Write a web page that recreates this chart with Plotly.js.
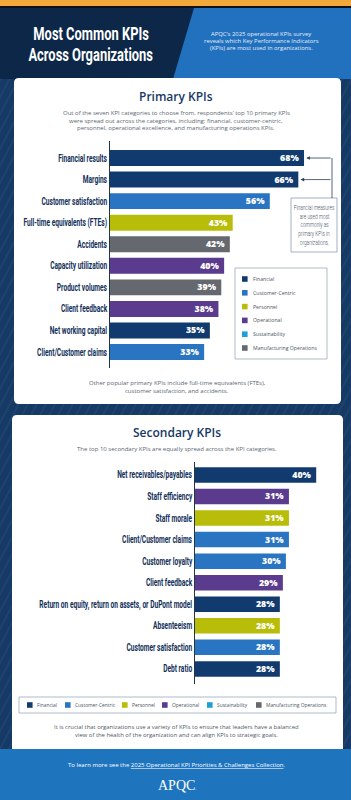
<!DOCTYPE html>
<html><head><meta charset="utf-8">
<script src="https://cdn.plot.ly/plotly-3.0.1.min.js"></script>
<style>
html,body{margin:0;padding:0;background:#163a66;}
#chart{width:351px;height:800px;}
</style></head>
<body><div id="chart"></div>
<script>
// ---------- DATA ----------
const primaryLabels = ['Financial results','Margins','Customer satisfaction','Full-time equivalents (FTEs)','Accidents','Capacity utilization','Product volumes','Client feedback','Net working capital','Client/Customer claims'];
const primaryValues = [68,66,56,43,42,40,39,38,35,33];
const primaryCategories = ['Financial','Financial','Customer-Centric','Personnel','Manufacturing Operations','Operational','Manufacturing Operations','Operational','Financial','Customer-Centric'];

const secondaryLabels = ['Net receivables/payables','Staff efficiency','Staff morale','Client/Customer claims','Customer loyalty','Client feedback','Return on equity, return on assets, or DuPont model','Absenteeism','Customer satisfaction','Debt ratio'];
const secondaryValues = [40,31,31,31,30,29,28,28,28,28];
const secondaryCategories = ['Financial','Operational','Personnel','Customer-Centric','Customer-Centric','Operational','Financial','Personnel','Customer-Centric','Financial'];

const categoryNames = ['Financial','Customer-Centric','Personnel','Operational','Sustainability','Manufacturing Operations'];
const categoryColors = ['#113b6e','#2a75c1','#b8bd0a','#5a3b8e','#1f9fd8','#65686e'];

// ---------- HELPERS ----------
const W = 351, H = 800;
const X = p => p / W;
const Y = p => 1 - p / H;
const COND = "Roboto, 'Liberation Sans', sans-serif";
const SANS = "'Open Sans', 'DejaVu Sans', sans-serif";
const NAVY = '#12305a';

const shapes = [];
const annotations = [];
const condensedAnnots = {}; // text -> squeeze factor

function rect(x0, y0, x1, y1, fill, line, lw) {
  shapes.push({type:'rect', xref:'paper', yref:'paper', layer:'below',
    x0:X(x0), x1:X(x1), y0:Y(y1), y1:Y(y0),
    fillcolor:fill, line:{color:line || 'rgba(0,0,0,0)', width: lw || 0}});
}
function rrect(x0, y0, x1, y1, r, fill) {
  const P = (x, y) => X(x) + ',' + Y(y);
  const path = `M${P(x0+r,y0)} L${P(x1-r,y0)} Q${P(x1,y0)} ${P(x1,y0+r)} L${P(x1,y1-r)} Q${P(x1,y1)} ${P(x1-r,y1)} L${P(x0+r,y1)} Q${P(x0,y1)} ${P(x0,y1-r)} L${P(x0,y0+r)} Q${P(x0,y0)} ${P(x0+r,y0)} Z`;
  shapes.push({type:'path', xref:'paper', yref:'paper', layer:'below', path:path,
    fillcolor:fill, line:{width:0}});
}
function poly(pts, fill) {
  const path = 'M' + pts.map(p => X(p[0]) + ',' + Y(p[1])).join(' L') + ' Z';
  shapes.push({type:'path', xref:'paper', yref:'paper', layer:'below', path:path,
    fillcolor:fill, line:{width:0}});
}
function line(x0, y0, x1, y1, color, w, layer) {
  shapes.push({type:'line', xref:'paper', yref:'paper', layer: layer || 'below',
    x0:X(x0), x1:X(x1), y0:Y(y0), y1:Y(y1), line:{color:color, width:w}});
}
function txt(x, y, text, font, xanchor, squeeze) {
  annotations.push({xref:'paper', yref:'paper', x:X(x), y:Y(y), text:text,
    showarrow:false, xanchor: xanchor || 'center', yanchor:'middle', font:font, borderpad:0});
  if (squeeze) condensedAnnots[text] = squeeze;
}
function lines(x, y0, dy, arr, font, xanchor, squeeze) {
  arr.forEach((t, i) => txt(x, y0 + i * dy, t, font, xanchor, squeeze));
}

// ---------- BACKGROUND ----------
rect(0, 0, W, H, '#163a66');
for (let i = -60; i < 60; i++) {
  const x0 = i * 9;
  line(x0, 800, x0 + 420, 0, 'rgba(255,255,255,0.045)', 2);
}
rect(0, 0, W, 6, '#f3a83b');
rect(0, 6, W, 8, '#101010');
rect(0, 8, W, 79, '#2271bf');
poly([[0,8],[194,8],[173,79],[0,79]], '#0c2748');
rrect(14, 78, 341, 404, 5, '#ffffff');
rrect(12, 415, 343, 760, 5, '#ffffff');
rect(0, 749, W, H, '#1f74be');

// callout box & connector
rect(291, 198, 337, 252, '#ffffff', '#8a9cb2', 0.8);
line(332, 158, 332, 198, '#2a3f5a', 0.8);

// legend 1 (vertical)
rect(235, 268, 327, 359, '#ffffff', '#9aaabd', 0.8);
categoryNames.forEach((c, i) => {
  const yc = 279 + i * 13.8;
  rect(242, yc - 2.8, 247.6, yc + 2.8, categoryColors[i]);
  txt(252, yc, c, {family:SANS, size:5.2, color:'#4a5563'}, 'left');
});

// legend 2 (horizontal)
rect(19, 697, 336, 713, '#ffffff', '#9aaabd', 0.8);
const leg2Sq = [27, 65, 122, 162, 207, 256];
categoryNames.forEach((c, i) => {
  const yc = 705;
  rect(leg2Sq[i], yc - 2.8, leg2Sq[i] + 5.6, yc + 2.8, categoryColors[i]);
  txt(leg2Sq[i] + 8.5, yc, c, {family:SANS, size:4.9, color:'#4a5563'}, 'left');
});

// ---------- TEXT ----------
const titleFont = {family:COND, size:19, color:'#ffffff', weight:'bold'};
txt(91, 33.5, 'Most Common KPIs', titleFont, 'center', 0.68);
txt(91, 54.5, 'Across Organizations', titleFont, 'center', 0.68);
lines(261, 34, 6.8, [
  "APQC\u2019s 2025 operational KPIs survey",
  'reveals which Key Performance Indicators',
  '(KPIs) are most used in organizations.'
], {family:SANS, size:5.9, color:'#e4edf8'});

txt(176, 96, 'Primary KPIs', {family:SANS, size:12, color:'#163866', weight:600});
lines(176, 113, 7.7, [
  "Out of the seven KPI categories to choose from, respondents\u2019 top 10 primary KPIs",
  'were spread out across the categories, including: financial, customer-centric,',
  'personnel, operational excellence, and manufacturing operations KPIs.'
], {family:SANS, size:6, color:'#5b6572'});

lines(314, 208, 8.7, ['Financial measures','are used most','commonly as','primary KPIs in','organizations.'],
  {family:COND, size:6.6, color:'#3d4b5c', weight:300}, 'center', 0.72);

lines(177, 383, 8, [
  'Other popular primary KPIs include full-time equivalents (FTEs),',
  'customer satisfaction, and accidents.'
], {family:SANS, size:6, color:'#5b6572'});

txt(177, 432, 'Secondary KPIs', {family:SANS, size:12, color:'#163866', weight:600});
txt(177, 449, 'The top 10 secondary KPIs are equally spread across the KPI categories.',
  {family:SANS, size:6, color:'#5b6572'});

lines(176, 727, 7.5, [
  'It is crucial that organizations use a variety of KPIs to ensure that leaders have a balanced',
  'view of the health of the organization and can align KPIs to strategic goals.'
], {family:SANS, size:5.9, color:'#4f5966'});

txt(177, 765, 'To learn more see the <span style="text-decoration:underline">2025 Operational KPI Priorities &amp; Challenges Collection</span>.',
  {family:SANS, size:6, color:'#ffffff'});
txt(177, 785, 'APQC<span style="font-size:5px">.</span>', {family:"'Liberation Serif', 'DejaVu Serif', serif", size:14, color:'#ffffff'});

// arrows from callout to financial bars (data coordinates)
const tailX = (332 - 110) / (220 / 77.1);
[0, 1].forEach(i => {
  annotations.push({xref:'x', yref:'y', axref:'x', ayref:'y',
    x: primaryValues[i] + 0.8, y: primaryLabels[i], ax: tailX, ay: primaryLabels[i],
    text:'', showarrow:true, arrowhead:2, arrowsize:0.9, arrowwidth:0.8, arrowcolor:'#2a3f5a', standoff:0});
});

// ---------- TRACES ----------
function barTrace(labels, values, cats, xa, ya, w) {
  return {type:'bar', orientation:'h', x:values, y:labels, xaxis:xa, yaxis:ya, width:w,
    marker:{color: cats.map(c => categoryColors[categoryNames.indexOf(c)]), line:{width:0}},
    text: values.map(v => v + '%\u00a0'), textposition:'inside', insidetextanchor:'end', textangle:0,
    insidetextfont:{family:SANS, size:8.8, color:'#ffffff', weight:800},
    constraintext:'none', hoverinfo:'skip', showlegend:false};
}
const data = [
  barTrace(primaryLabels, primaryValues, primaryCategories, 'x', 'y', 0.74),
  barTrace(secondaryLabels, secondaryValues, secondaryCategories, 'x2', 'y2', 0.72)
];

const yBase = {type:'category', categoryorder:'array', showline:true, linecolor:'#263546', linewidth:1,
  ticks:'', showgrid:false, zeroline:false, automargin:false, fixedrange:true,
  tickfont:{family:COND, size:10, color:NAVY, weight:'bold'}};

const layout = {
  width:W, height:H, margin:{l:0, r:0, t:0, b:0},
  paper_bgcolor:'#163a66', plot_bgcolor:'rgba(0,0,0,0)',
  showlegend:false, hovermode:false,
  xaxis:{domain:[110/W, 330/W], range:[0, 77.1], visible:false, fixedrange:true, anchor:'y'},
  yaxis:Object.assign({}, yBase, {domain:[1-368/H, 1-141/H], range:[9.74, -0.79], categoryarray:primaryLabels, anchor:'x'}),
  xaxis2:{domain:[195/W, 330/W], range:[0, 44.55], visible:false, fixedrange:true, anchor:'y2'},
  yaxis2:Object.assign({}, yBase, {domain:[1-684/H, 1-462/H], range:[9.7, -0.6], categoryarray:secondaryLabels, anchor:'x2'}),
  shapes:shapes, annotations:annotations
};

// emulate the condensed display face of the original: horizontal scale about the text's anchor point
function squeeze(el, k, anchor) {
  const b = el.getBBox();
  if (!b.width) return;
  const ax = anchor === 'end' ? b.x + b.width : b.x + b.width / 2;
  const t = el.getAttribute('transform') || '';
  el.setAttribute('transform', `${t} translate(${ax},0) scale(${k},1) translate(${-ax},0)`);
}
Plotly.newPlot('chart', data, layout, {staticPlot:true, displayModeBar:false}).then(gd => {
  gd.querySelectorAll('.yaxislayer-above text').forEach(t => squeeze(t, 0.66, 'end'));
  gd.querySelectorAll('.annotation-text').forEach(t => {
    const k = condensedAnnots[t.textContent];
    if (k) squeeze(t, k, 'middle');
  });
});
</script>
</body></html>
